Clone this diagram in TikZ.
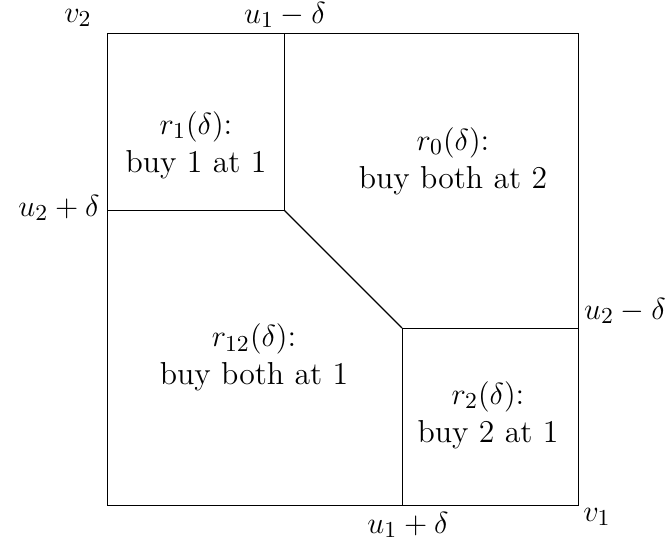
\documentclass[tikz,border=0pt]{standalone}
\begin{document}
\begin{tikzpicture}[x=0.3937pt,y=-0.3937pt,
  every node/.style={font=\fontsize{12.5}{15}\selectfont},
  region/.style={align=center,inner sep=0pt},
  lbl/.style={inner sep=0pt},
  edge/.style={line width=0.35pt}]
\useasboundingbox (0,0) rectangle (670,545);
% corners
\coordinate (tl) at (107,33);
\coordinate (tr) at (578,33);
\coordinate (bl) at (107,505);
\coordinate (br) at (578,505);
\coordinate (a) at (284,33);
\coordinate (b) at (284,210);
\coordinate (c) at (107,210);
\coordinate (d) at (402,328);
\coordinate (e) at (578,328);
\coordinate (f) at (402,505);
\draw[edge] (tl) -- (tr) -- (br) -- (bl) -- cycle;
\draw[edge] (a) -- (b) -- (c);
\draw[line width=0.5pt] (b) -- (d);
\draw[edge] (e) -- (d) -- (f);
% labels
\node[lbl] (v2) at (78,18) {$v_2$};
\node[lbl] (u1m) at (285,15) {$u_1-\delta$};
\node[lbl] (u2p) at (59,208) {$u_2+\delta$};
\node[lbl] (u2m) at (625,311) {$u_2-\delta$};
\node[lbl] (u1p) at (408,525) {$u_1+\delta$};
\node[lbl] (v1) at (597,517) {$v_1$};
% regions
\node[region] (r1) at (196,145) {$r_1(\delta)$:\\ buy 1 at 1};
\node[region] (r0) at (453,161) {$r_0(\delta)$:\\ buy both at 2};
\node[region] (r12) at (254,357.5) {$r_{12}(\delta)$:\\ buy both at 1};
\node[region] (r2) at (488,415) {$r_2(\delta)$:\\ buy 2 at 1};
\end{tikzpicture}
\end{document}
